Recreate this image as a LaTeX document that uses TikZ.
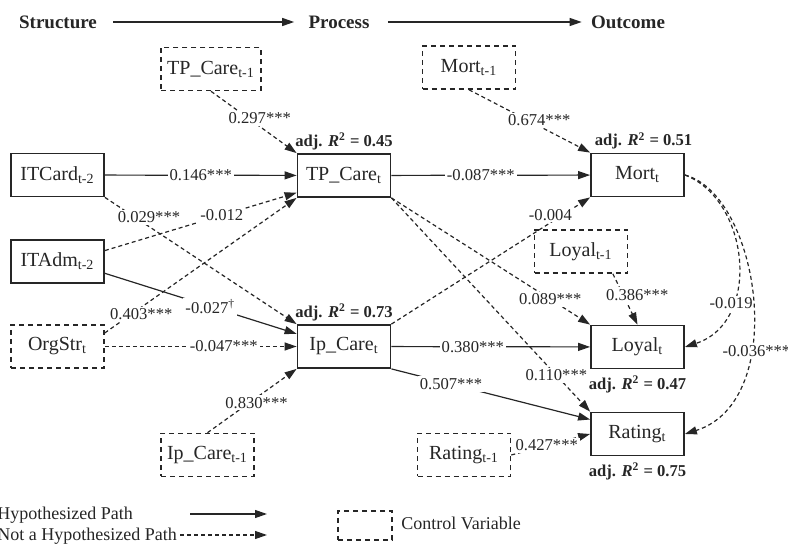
\documentclass[tikz,border=0pt]{standalone}
\usepackage{fontspec}
\setmainfont{Liberation Serif}
\usetikzlibrary{arrows.meta,positioning}

\begin{document}
\begin{tikzpicture}[x=0.5pt, y=-0.5pt,
        var/.style = {
            draw=black!85,
            text=black!85,
            line width=0.9pt,
            minimum width=46.5pt,
            minimum height=21.5pt,
            inner sep=3pt,
            font=\fontsize{10}{12}\selectfont
        },
        ctrl/.style = {var, line width=0.8pt, dash pattern=on 2.5pt off 2pt},
        hyp/.style = {draw=black!85, line width=0.6pt, -{Triangle[length=6pt,width=4pt]}},
        nohyp/.style = {hyp, dash pattern=on 2pt off 1.5pt},
        lbl/.style = {fill=white, inner sep=1pt, text=black!85, font=\fontsize{8.3}{10}\selectfont},
        rsq/.style = {text=black!85, inner sep=1pt, font=\bfseries\fontsize{8.3}{10}\selectfont},
        head/.style = {text=black!85, inner sep=0pt, font=\bfseries\fontsize{9.5}{11}\selectfont},
        legend/.style = {text=black!85, inner sep=0pt, anchor=base west, font=\fontsize{9}{11}\selectfont}
    ]
        \useasboundingbox (0,0) rectangle (788,545);

        % stages
        \node[head] (struct) at (58,22) {Structure};
        \node[head] (proc) at (339,22) {Process};
        \node[head] (outc) at (628,22) {Outcome};
        \draw[hyp, shorten <=8pt, shorten >=7pt] (struct) -- (proc);
        \draw[hyp, shorten <=9pt, shorten >=4.5pt] (proc) -- (outc);

        % variables
        \node[var] (itcard) at (57.5,175) {ITCard\textsubscript{t-2}};
        \node[var] (itadm) at (57.5,261.5) {ITAdm\textsubscript{t-2}};
        \node[ctrl] (orgstr) at (57.5,346.5) {OrgStr\textsubscript{t}};
        \node[ctrl] (tpprev) at (211,69) {TP\_Care\textsubscript{t-1}};
        \node[var] (tp) at (344,175.5) {TP\_Care\textsubscript{t}};
        \node[var] (ip) at (344,346.5) {Ip\_Care\textsubscript{t}};
        \node[ctrl] (ipprev) at (207.5,455) {Ip\_Care\textsubscript{t-1}};
        \node[ctrl] (mortprev) at (469,67.5) {Mort\textsubscript{t-1}};
        \node[var] (mort) at (637.5,175) {Mort\textsubscript{t}};
        \node[ctrl] (loyalprev) at (581,251.5) {Loyal\textsubscript{t-1}};
        \node[var] (loyal) at (637.5,347) {Loyal\textsubscript{t}};
        \node[var] (rating) at (637.5,434) {Rating\textsubscript{t}};
        \node[ctrl] (ratingprev) at (464,455) {Rating\textsubscript{t-1}};

        \node[rsq, above=0.5pt of tp] (rtp) {adj. \textit{R}\textsuperscript{2} = 0.45};
        \node[rsq, above=0.5pt of mort, xshift=3pt] (rmort) {adj. \textit{R}\textsuperscript{2} = 0.51};
        \node[rsq, above=0.5pt of ip] (rip) {adj. \textit{R}\textsuperscript{2} = 0.73};
        \node[rsq, below=2pt of loyal] (rloyal) {adj. \textit{R}\textsuperscript{2} = 0.47};
        \node[rsq, below=2pt of rating] (rrating) {adj. \textit{R}\textsuperscript{2} = 0.75};

        % structure -> process
        \draw[hyp] (itcard) -- (tp) node[lbl, midway] (e1) {0.146***};
        \draw[nohyp] (itcard.south east) -- (ip.north west) node[lbl, pos=.23, yshift=4.5pt] (e2) {0.029***};
        \draw[nohyp] (itadm.13) -- (tp.200) node[lbl, pos=.61] (e3) {-0.012};
        \draw[hyp] (itadm.-14) -- (ip.165) node[lbl, pos=.55] (e4) {-0.027\textsuperscript{\textdagger}};
        \draw[nohyp] (orgstr.16) -- (tp.south west) node[lbl, pos=.19, yshift=-3.5pt] (e5) {0.403***};
        \draw[nohyp] (orgstr) -- (ip) node[lbl, pos=.62] (e6) {-0.047***};
        \draw[nohyp] (tpprev.south) -- (tp.north west) node[lbl, pos=.5, xshift=3pt, yshift=2pt] (e7) {0.297***};
        \draw[nohyp] (ipprev.north) -- (ip.south west) node[lbl, pos=.55, yshift=-2.5pt] (e8) {0.830***};

        % process -> outcome
        \draw[hyp] (tp) -- (mort) node[lbl, pos=.45] (e9) {-0.087***};
        \draw[nohyp] (mortprev.south) -- (mort.north west) node[lbl, pos=.58, yshift=3pt] (e10) {0.674***};
        \draw[nohyp] (tp.south east) -- (loyal.north west) node[lbl, pos=.8] (e11) {0.089***};
        \draw[nohyp] (tp.south east) -- (rating.north west) node[lbl, pos=.83] (e12) {0.110***};
        \draw[nohyp] (ip.north east) -- (mort.south west) node[lbl, pos=.8, yshift=4pt] (e13) {-0.004};
        \draw[hyp] (ip) -- (loyal) node[lbl, pos=.41] (e14) {0.380***};
        \draw[hyp] (ip.south east) -- (rating.163) node[lbl, pos=.3] (e15) {0.507***};
        \draw[nohyp] (loyalprev.-35) -- (loyal.north) node[lbl, pos=.42, xshift=7pt] (e16) {0.386***};
        \draw[nohyp] (ratingprev.east) -- (rating.west) node[lbl, pos=.45] (e17) {0.427***};
        \draw[nohyp] (mort.east) .. controls +(65,25) and +(77,-25) .. (loyal.east) node[lbl, pos=.7] (e18) {-0.019};
        \draw[nohyp] (mort.east) .. controls +(75,20) and +(105,-33) .. (rating.east) node[lbl, pos=.65, xshift=3.5pt] (e19) {-0.036***};

        % legend
        \node[legend] (lghyp) at (-3,519) {Hypothesized Path};
        \node[legend] (lgnot) at (-3,540) {Not a Hypothesized Path};
        \coordinate (hypa) at (190,514);
        \coordinate (hypb) at (267,514);
        \coordinate (nota) at (180,535);
        \coordinate (notb) at (267,535);
        \draw[hyp] (hypa) -- (hypb);
        \draw[nohyp] (nota) -- (notb);
        \node[ctrl, minimum width=27pt, minimum height=14.5pt] (lgbox) at (365,525.5) {};
        \node[legend] (lgctrl) at (401,530) {Control Variable};
    \end{tikzpicture}
\end{document}
